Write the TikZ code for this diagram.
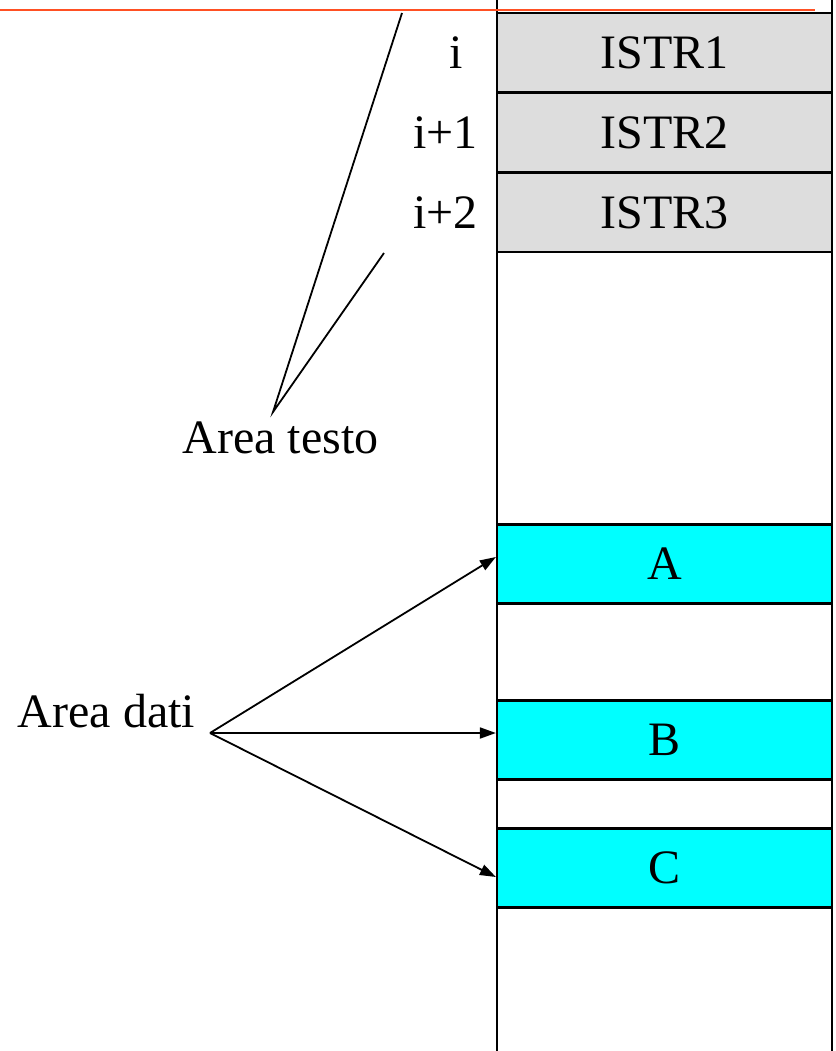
\documentclass[tikz,border=0pt]{standalone}
\usepackage{fontspec}
\setmainfont{Liberation Serif}
\usetikzlibrary{arrows.meta}

\definecolor{redline}{RGB}{255,80,35}
\definecolor{istrgray}{RGB}{221,221,221}
\definecolor{datacyan}{RGB}{0,255,255}

\tikzset{
  cell/.style={draw, line width=1.1pt, minimum width=167.5pt, minimum height=39.5pt, inner sep=0pt},
  istr/.style={cell, fill=istrgray},
  dato/.style={cell, fill=datacyan},
  ptr/.style={line width=0.9pt, -{Triangle[length=8pt,width=5.5pt]}}
}

\begin{document}
\begin{tikzpicture}[x=0.5pt, y=-0.5pt, font=\fontsize{24}{28}\selectfont]
\useasboundingbox (0,0) rectangle (836,1051);

% memoria
\draw[line width=1.1pt] (497,0) -- (497,1051);
\draw[line width=1.1pt] (832,0) -- (832,1051);
\draw[redline, line width=1pt] (0,10) -- (815,10);

\node[istr] (istr1) at (664.5,52.5) {ISTR1};
\node[istr] (istr2) at (664.5,132.5) {ISTR2};
\node[istr] (istr3) at (664.5,212.5) {ISTR3};

\node[anchor=base east] (ind0) at (470,68) {i};
\node[anchor=base east] (ind1) at (485,148) {i+1};
\node[anchor=base east] (ind2) at (485,228) {i+2};

\node[dato] (datoA) at (664.5,564) {A};
\node[dato] (datoB) at (664.5,740) {B};
\node[dato] (datoC) at (664.5,868) {C};

% area testo
\node[anchor=base] (testo) at (280.5,453) {Area testo};
\coordinate (apex) at (273,412);
\coordinate (capo1) at (402,13);
\coordinate (capo2) at (384,253);
\draw[line width=0.9pt] (capo1) -- (apex) -- (capo2);

% area dati
\node[anchor=base] (dati) at (106.5,727) {Area dati};
\coordinate (orig) at (210,733);
\draw[ptr] (orig) -- (datoA.west |- 0,557);
\draw[ptr] (orig) -- (datoB.west |- 0,733);
\draw[ptr] (orig) -- (datoC.west |- 0,877);

\end{tikzpicture}
\end{document}
